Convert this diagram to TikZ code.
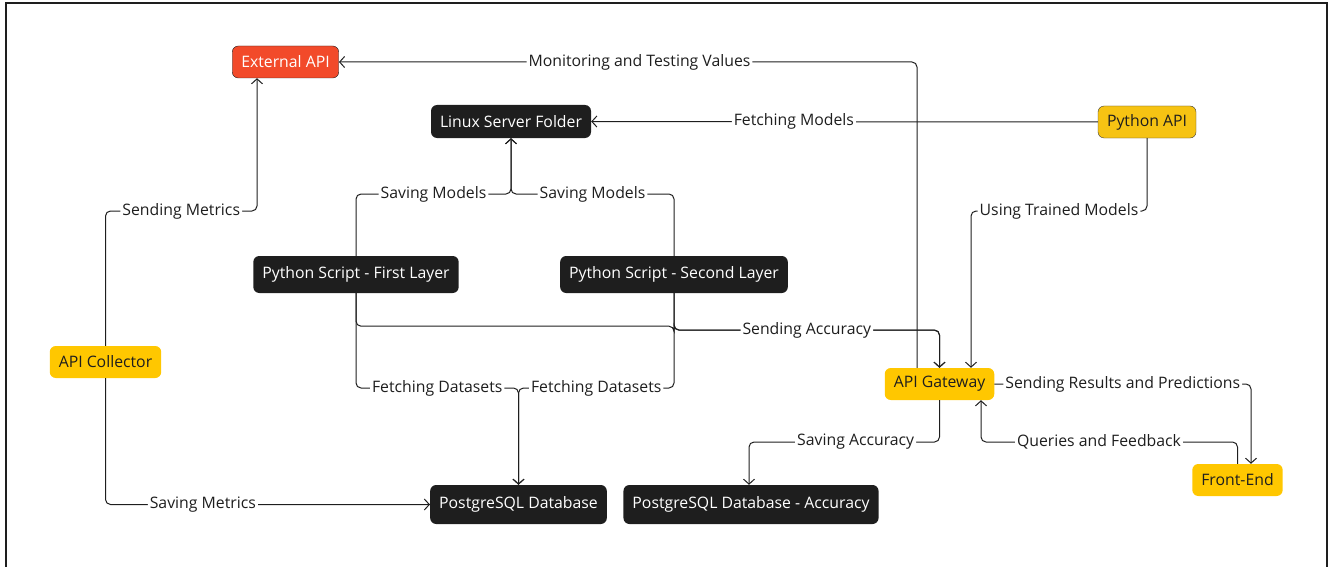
\documentclass[tikz,border=0pt]{standalone}
\usepackage{fontspec}
\setmainfont{Open Sans}
\usetikzlibrary{arrows.meta}
\definecolor{inkgray}{HTML}{1E1E1E}
\definecolor{apired}{HTML}{F24A2A}
\definecolor{apiyellow}{HTML}{FFC700}
\definecolor{pyyellow}{HTML}{F6C313}
\begin{document}
\begin{tikzpicture}[
  x=1pt, y=-1pt,
  every node/.style={font=\fontsize{15.8}{18}\selectfont, text=inkgray},
  box/.style={rounded corners=6pt, minimum height=32pt, inner xsep=9pt, inner ysep=0pt},
  darkbox/.style={box, fill=inkgray, text=white, minimum height=37pt},
  yellowbox/.style={box, fill=apiyellow},
  lbl/.style={fill=white, inner sep=2pt},
  flow/.style={draw=inkgray, line width=1pt, rounded corners=5pt, -{Straight Barb[length=5pt,width=11pt]}}
]
\useasboundingbox (0,0) rectangle (1332,567);
\draw[line width=2.3pt, draw=inkgray] (6,567) -- (6,3) -- (1327,3) -- (1327,567);

\node[box, fill=apired, draw=inkgray, text=white] (extapi) at (285.5,62) {External API};
\node[darkbox, minimum height=33pt] (linux) at (511,121.5) {Linux Server Folder};
\node[box, fill=pyyellow, draw=inkgray!85] (pyapi) at (1147,122) {Python API};
\node[darkbox] (first) at (356,274.5) {Python Script - First Layer};
\node[darkbox] (second) at (674,274.5) {Python Script - Second Layer};
\node[yellowbox] (collector) at (105.5,362) {API Collector};
\node[yellowbox] (gateway) at (939.5,384) {API Gateway};
\node[yellowbox] (frontend) at (1237.5,480) {Front-End};
\node[darkbox, minimum height=39pt] (pgdb) at (518.5,504.5) {PostgreSQL Database};
\node[darkbox, minimum height=39pt] (pgacc) at (751,504.5) {PostgreSQL Database - Accuracy};

\draw[flow] (collector.north) |- node[lbl,pos=0.75]{Sending Metrics} (257,211) -- (extapi.south -| 257,0);
\draw[flow] (collector.south) |- node[lbl,pos=0.65]{Saving Metrics} (pgdb.west);
\draw[flow] (gateway.north -| 917,0) |- node[lbl,pos=0.74]{Monitoring and Testing Values} (extapi.east);
\draw[flow] (pyapi.west) -- node[lbl,pos=0.6]{Fetching Models} (linux.east);
\draw[flow] (pyapi.south) |- node[lbl,pos=0.75]{Using Trained Models} (971,211) -- (gateway.north -| 971,0);
\draw[flow] (first.north) |- node[lbl,pos=0.75]{Saving Models} (511,194) -- (linux.south);
\draw[flow] (second.north) |- node[lbl,pos=0.75]{Saving Models} (511,194) -- (linux.south);
\draw[flow] (first.south) -- ++(0,33) -| (second.south |- 0,330) -| (gateway.north);
\draw[flow] (second.south) -- ++(0,37) -| node[lbl,pos=0.25]{Sending Accuracy} (gateway.north);
\draw[flow] (first.south) |- node[lbl,pos=0.75]{Fetching Datasets} (518.5,388) -- (pgdb.north);
\draw[flow] (second.south) |- node[lbl,pos=0.75]{Fetching Datasets} (518.5,388) -- (pgdb.north);
\draw[flow] (gateway.south) |- node[lbl,pos=0.72]{Saving Accuracy} (749,442) -- (pgacc.north -| 749,0);
\draw[flow] (gateway.east) -| node[lbl,pos=0.25]{Sending Results and Predictions} (frontend.north -| 1251,0);
\draw[flow] (frontend.north) |- node[lbl,pos=0.77]{Queries and Feedback} (981,442) -- (gateway.south -| 981,0);
\end{tikzpicture}
\end{document}
